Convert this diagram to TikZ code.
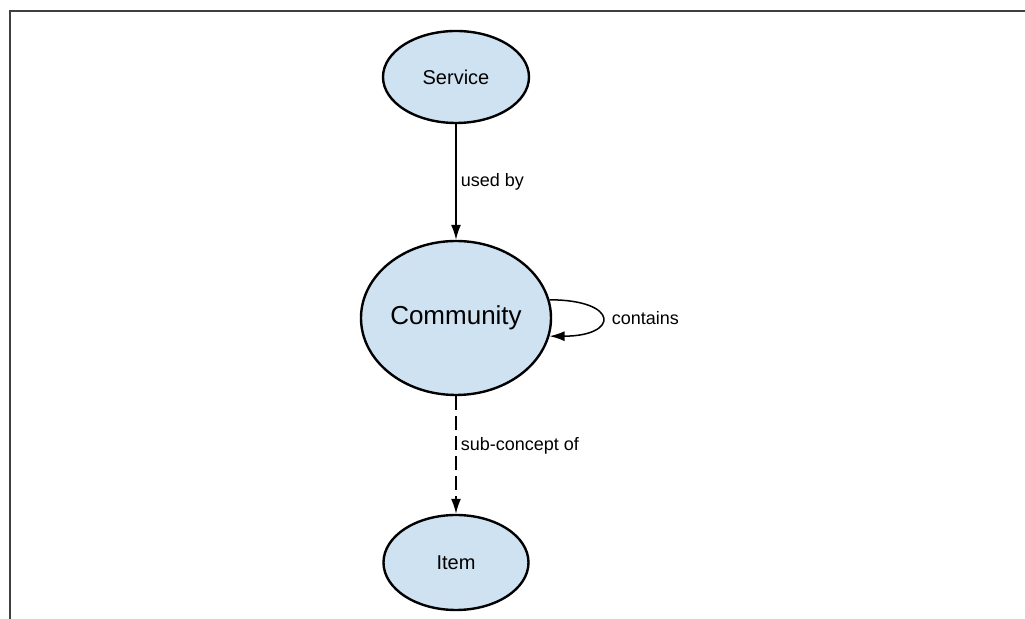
\documentclass[tikz,border=0pt]{standalone}
\usepackage{fontspec}
\setmainfont{Liberation Sans}
\usetikzlibrary{shapes.geometric,arrows.meta}
\definecolor{conceptblue}{RGB}{207,226,242}
\begin{document}
\begin{tikzpicture}[x=0.5pt, y=-0.5pt,
        concept/.style={ellipse, draw, line width=1.2pt, fill=conceptblue, inner sep=0pt, font=\fontsize{10}{12}\selectfont},
        rel/.style={line width=0.75pt, -{Latex[length=7.5pt, width=5pt]}},
        rellabel/.style={anchor=west, inner sep=2pt, font=\fontsize{9}{11}\selectfont}]
    \useasboundingbox (0,0) rectangle (1025,619);
    \draw[line width=1pt, black!75] (9.5,619) -- (9.5,11) -- (1025,11);

    \node[concept, minimum width=73pt, minimum height=46pt] (service) at (456,77) {Service};
    \node[concept, minimum width=95pt, minimum height=77pt, font=\fontsize{13}{15}\selectfont] (community) at (456,318) {Community};
    \node[concept, minimum width=72.5pt, minimum height=47.5pt] (item) at (456,562.5) {Item};

    \draw[rel] (service) -- node[rellabel, pos=0.5] {used by} (community);
    \draw[rel, dash pattern=on 7pt off 3pt] (community) -- node[rellabel, pos=0.42] {sub-concept of} (item);
    \draw[rel] (community.11) .. controls +(70,0) and +(70,0) .. (community.-11) node[rellabel, pos=0.5, xshift=2.5pt] {contains};
\end{tikzpicture}
\end{document}
